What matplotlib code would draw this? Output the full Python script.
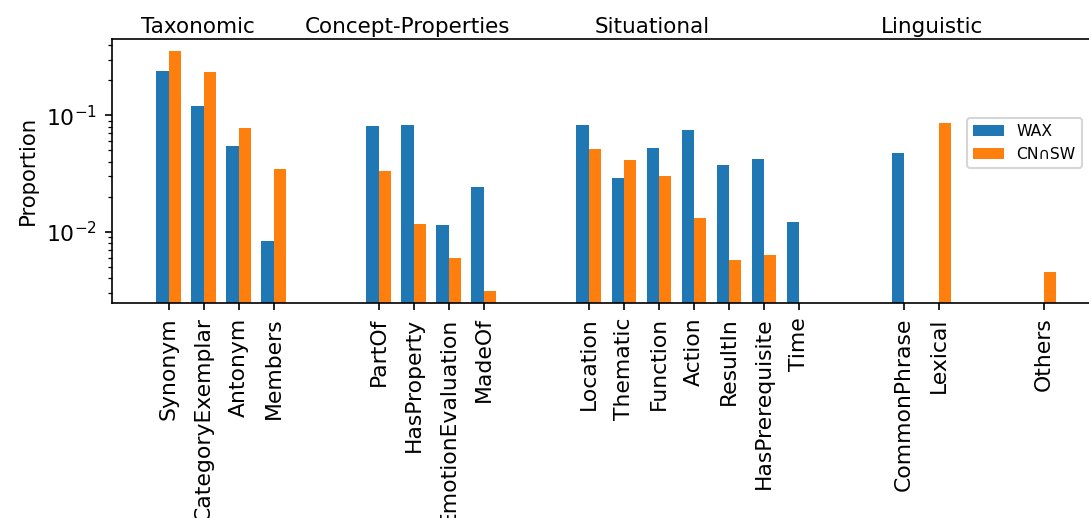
import numpy as np
import matplotlib
matplotlib.use("Agg")
import matplotlib.pyplot as plt

# Relation categories, grouped; positions leave two empty slots between groups
categories = ["Synonym", "CategoryExemplar", "Antonym", "Members",
              "PartOf", "HasProperty", "EmotionEvaluation", "MadeOf",
              "Location", "Thematic", "Function", "Action", "ResultIn",
              "HasPrerequisite", "Time",
              "CommonPhrase", "Lexical",
              "Others"]
positions = [0, 1, 2, 3,
             6, 7, 8, 9,
             12, 13, 14, 15, 16, 17, 18,
             21, 22,
             25]

wax = [0.240, 0.120, 0.0545, 0.0083,
       0.0809, 0.0826, 0.0114, 0.0242,
       0.0826, 0.0289, 0.0524, 0.0748, 0.0374, 0.0421, 0.0121,
       0.0474, 0.0,
       0.0]
cn_sw = [0.357, 0.236, 0.0778, 0.0346,
         0.0332, 0.01165, 0.00594, 0.00309,
         0.0513, 0.0413, 0.0301, 0.0131, 0.00571, 0.0063, 0.0,
         0.0, 0.0857,
         0.0045]

groups = ["Taxonomic", "Concept-Properties", "Situational", "Linguistic"]
group_x = [0.84, 6.83, 13.82, 21.82]

W, H, DPI = 1089, 518, 150
fig = plt.figure(figsize=(W / DPI, H / DPI), dpi=DPI)
left, right, top, bottom = 111.5, 1101.0, 39.0, 302.7
ax = fig.add_axes([left / W, 1 - bottom / H, (right - left) / W, (bottom - top) / H])

x = np.array(positions, dtype=float)
width = 0.35
ax.bar(x - width / 2, wax, width, label="WAX", color="#1f77b4")
ax.bar(x + width / 2, cn_sw, width, label="CN\u2229SW", color="#ff7f0e")

ax.set_yscale("log")
ax.set_ylim(0.002455, 0.453)
ax.set_xlim(-1.635, 26.635)
ax.set_ylabel("Proportion", fontsize=10.2)
ax.tick_params(axis="both", labelsize=10.5)

ax.set_xticks(x)
ax.set_xticklabels(categories, rotation=90)

trans = matplotlib.transforms.blended_transform_factory(ax.transData, ax.transAxes)
for name, gx in zip(groups, group_x):
    ax.text(gx, 1.0246, name, transform=trans, ha="center", va="baseline",
            fontsize=10.3)

ax.legend(loc="upper right", bbox_to_anchor=(1082 / W, 1 - 118 / H),
          bbox_transform=fig.transFigure, borderaxespad=0, fontsize=7.5)

fig.savefig("out.png", dpi=DPI)
